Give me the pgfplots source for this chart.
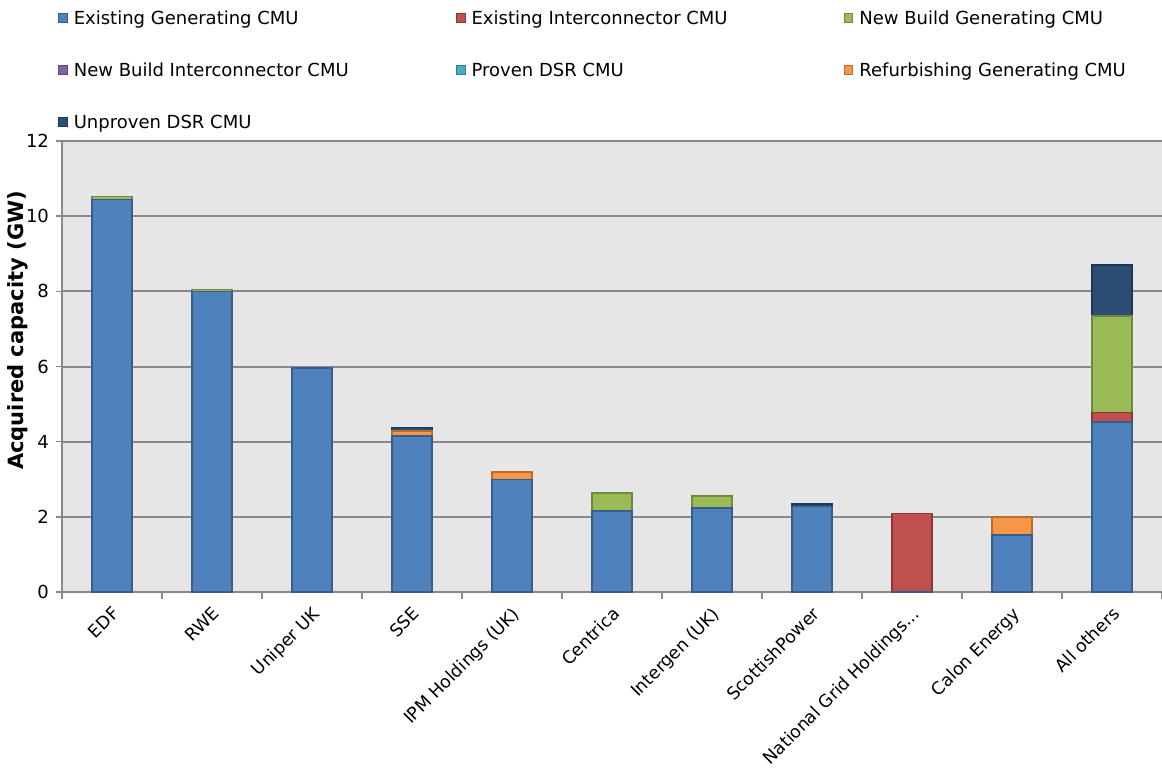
\documentclass[border=0pt]{standalone}
\usepackage{pgfplots}
\usepackage{pgfplotstable}
\pgfplotsset{compat=1.18}
\usepackage{fontspec}
\setmainfont{DejaVu Sans}

\definecolor{egf}{HTML}{4F81BD}\definecolor{egd}{HTML}{385D8A}
\definecolor{eif}{HTML}{C0504D}\definecolor{eid}{HTML}{8C3836}
\definecolor{nbgf}{HTML}{9BBB59}\definecolor{nbgd}{HTML}{71893F}
\definecolor{nbif}{HTML}{8064A2}\definecolor{nbid}{HTML}{5C4776}
\definecolor{pdf}{HTML}{4BACC6}\definecolor{pdd}{HTML}{357D91}
\definecolor{rff}{HTML}{F79646}\definecolor{rfd}{HTML}{B66D31}
\definecolor{udf}{HTML}{2C4D75}\definecolor{udd}{HTML}{1F3655}
\definecolor{plotbg}{HTML}{E6E6E6}
\definecolor{gridgrey}{HTML}{898989}

% capacity (GW) by company and CMU type
\pgfplotstableread{
x  eg    ei   nbg  nbi pdsr rf   ud
0  10.45 0    0.07 0   0    0    0
1  8.00  0    0.05 0   0    0    0
2  5.96  0    0    0   0    0    0
3  4.15  0    0    0   0    0.14 0.09
4  3.00  0    0    0   0    0.19 0
5  2.15  0    0.49 0   0    0    0
6  2.24  0    0.32 0   0    0    0
7  2.28  0    0    0   0    0    0.06
8  0     2.09 0    0   0    0    0
9  1.52  0    0    0   0    0.48 0
10 4.53  0.25 2.57 0   0    0    1.35
}\capdata

% legend cells: column 1 and 3 wide, column 2 a bit narrower
\newcommand{\lentry}[1]{\makebox[194pt][l]{\hspace{3pt}\strut #1}}
\newcommand{\lentryb}[1]{\makebox[189pt][l]{\hspace{3pt}\strut #1}}
\newcommand{\ngh}{National Grid Holdings...}

\begin{document}
\begin{tikzpicture}
\begin{axis}[
    scale only axis,
    width=550pt, height=225.5pt,
    xmin=-0.5, xmax=10.5,
    ymin=0, ymax=12,
    ybar, bar width=20pt, bar shift=0pt,
    axis x line*=bottom, axis y line*=left,
    axis line style={-, draw=gridgrey, line width=0.8pt},
    axis background/.style={fill=plotbg},
    font=\fontsize{9}{11}\selectfont,
    /pgf/number format/assume math mode=true,
    ytick={0,2,...,12},
    ymajorgrids,
    grid style={draw=gridgrey, line width=1pt},
    tick align=outside,
    tick style={draw=gridgrey, line width=0.8pt},
    major tick length=3pt, minor tick length=3.5pt,
    xtick={0,...,10},
    major x tick style={draw=none},
    minor xtick={-0.5,0.5,...,10.5},
    xticklabels={EDF, RWE, Uniper UK, SSE, IPM Holdings (UK), Centrica,
        Intergen (UK), ScottishPower, \ngh, Calon Energy, All others},
    xticklabel style={rotate=45, anchor=north east, xshift=0.5pt, yshift=1pt,
        font=\fontsize{8.7}{10}\selectfont},
    ylabel={\textbf{Acquired capacity (GW)}},
    ylabel style={at={(axis description cs:-0.04,0.58)}, anchor=center,
        font=\fontsize{10.5}{12}\selectfont},
    legend columns=3,
    reverse legend,
    legend cell align=left,
    legend style={at={(0,1)}, anchor=north west, xshift=-2pt, yshift=66.2pt,
        draw=none, fill=none, inner sep=0pt, outer sep=0pt,
        row sep=16.8pt, column sep=0pt,
        nodes={inner sep=0pt}},
    legend image code/.code={\draw[#1, line width=0.5pt] (0pt,-2.2pt) rectangle (4.4pt,2.2pt);},
    every axis plot/.append style={line width=0.75pt},
]
\addplot[fill=udf, draw=udd] table[x=x, y expr=\thisrow{eg}+\thisrow{ei}+\thisrow{nbg}+\thisrow{nbi}+\thisrow{pdsr}+\thisrow{rf}+\thisrow{ud}] {\capdata};
\addlegendentry{\lentry{Unproven DSR CMU}}
\addplot[fill=rff, draw=rfd] table[x=x, y expr=\thisrow{eg}+\thisrow{ei}+\thisrow{nbg}+\thisrow{nbi}+\thisrow{pdsr}+\thisrow{rf}] {\capdata};
\addlegendentry{\lentry{Refurbishing Generating CMU}}
\addplot[fill=pdf, draw=pdd] table[x=x, y expr=\thisrow{eg}+\thisrow{ei}+\thisrow{nbg}+\thisrow{nbi}+\thisrow{pdsr}] {\capdata};
\addlegendentry{\lentryb{Proven DSR CMU}}
\addplot[fill=nbif, draw=nbid] table[x=x, y expr=\thisrow{eg}+\thisrow{ei}+\thisrow{nbg}+\thisrow{nbi}] {\capdata};
\addlegendentry{\lentry{New Build Interconnector CMU}}
\addplot[fill=nbgf, draw=nbgd] table[x=x, y expr=\thisrow{eg}+\thisrow{ei}+\thisrow{nbg}] {\capdata};
\addlegendentry{\lentry{New Build Generating CMU}}
\addplot[fill=eif, draw=eid] table[x=x, y expr=\thisrow{eg}+\thisrow{ei}] {\capdata};
\addlegendentry{\lentryb{Existing Interconnector CMU}}
\addplot[fill=egf, draw=egd] table[x=x, y=eg] {\capdata};
\addlegendentry{\lentry{Existing Generating CMU}}
\end{axis}
\pgfresetboundingbox
\path[use as bounding box] (-31pt,-87.5pt) rectangle (550pt,296pt);
\end{tikzpicture}
\end{document}
